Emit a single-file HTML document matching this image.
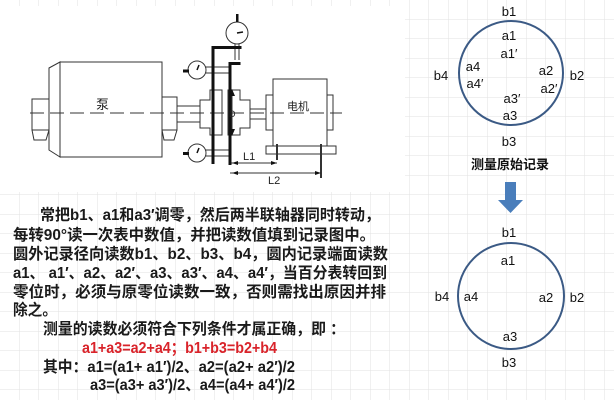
<!DOCTYPE html>
<html><head><meta charset="utf-8"><style>
html,body{margin:0;padding:0;background:#fff;}
svg{display:block;}
text{font-family:"Liberation Sans","Noto Sans CJK SC",sans-serif;}
</style></head><body>
<svg width="614" height="400" viewBox="0 0 614 400" xmlns="http://www.w3.org/2000/svg">
<defs>
<pattern id="g" width="19.5" height="19.5" patternUnits="userSpaceOnUse">
<path d="M19.5 0V19.5M0 19.5H19.5" stroke="#e2e2e2" stroke-width="1" fill="none"/>
</pattern>
</defs>
<rect width="614" height="400" fill="#fff"/>
<rect width="614" height="400" fill="url(#g)"/>
<rect x="0" y="6" width="405" height="186" fill="#fff"/>

<line x1="30" y1="113" x2="342" y2="113" stroke="#333" stroke-width="1" stroke-dasharray="14,6"/>
<g fill="none" stroke="#333" stroke-width="1">
<polygon points="49,68 60,62 60,157 49,150"/>
<rect x="60" y="62" width="102" height="95"/>
<rect x="32" y="99" width="17" height="31"/>
<path d="M32 130 L34 140 L46 140 L49 130"/>
<rect x="162" y="97" width="15" height="33"/>
<path d="M162 130 L164 140 L174 140 L177 130"/>
<line x1="177" y1="106" x2="200" y2="106"/><line x1="177" y1="122" x2="200" y2="122"/>
<path d="M200 100 H210 V90 H222 V135 H210 V128 H200 Z"/>
<path d="M240 100 H250 V128 H240 V135 H228 V90 H240 Z"/>
<line x1="250" y1="109" x2="266" y2="109"/><line x1="250" y1="119" x2="266" y2="119"/>
<rect x="273" y="79" width="54" height="67"/>
<rect x="266" y="95" width="7" height="35"/>
<rect x="327" y="95" width="6" height="35"/>
<rect x="266" y="146" width="70" height="8"/>
<line x1="277" y1="144" x2="277" y2="160" stroke-width="2"/>
<line x1="321" y1="144" x2="321" y2="178" stroke-width="2"/>
<circle cx="237" cy="33" r="11"/>
<circle cx="197" cy="70" r="9"/>
<circle cx="197" cy="153" r="9"/>
<line x1="206" y1="67" x2="213" y2="67"/><line x1="206" y1="73" x2="213" y2="73"/>
<line x1="206" y1="150" x2="213" y2="150"/><line x1="206" y1="156" x2="213" y2="156"/>
<line x1="213" y1="67" x2="230" y2="67"/><line x1="213" y1="73" x2="230" y2="73"/>
<line x1="213" y1="150" x2="230" y2="150"/><line x1="213" y1="156" x2="230" y2="156"/>
<line x1="235" y1="44" x2="235" y2="60"/><line x1="239" y1="44" x2="239" y2="60"/>
<line x1="230" y1="163" x2="277" y2="163"/>
<line x1="230" y1="173" x2="321" y2="173"/>
<line x1="232" y1="95" x2="232" y2="130"/>
</g>
<g fill="#111">
<rect x="211.5" y="46" width="3" height="118"/>
<rect x="228.5" y="63" width="3" height="102"/>
<rect x="211.5" y="46" width="30" height="3"/>
<rect x="228.5" y="62" width="12" height="3"/>
<rect x="236" y="14" width="2.5" height="8"/>
<rect x="183" y="69.5" width="6" height="3"/>
<rect x="183" y="152" width="6" height="3"/>
<polygon points="232,89 229,96 235,96"/>
<polygon points="232,136 229,129 235,129"/>
<polygon points="277,163 271,161 271,165"/>
<polygon points="232,163 238,161 238,165"/>
<polygon points="321,173 315,171 315,175"/>
<polygon points="232,173 238,171 238,175"/>
<line x1="237" y1="33" x2="243" y2="32" stroke="#111" stroke-width="1.5"/>
<line x1="197" y1="70" x2="199" y2="65" stroke="#111" stroke-width="1.5"/>
<line x1="197" y1="153" x2="199" y2="148" stroke="#111" stroke-width="1.5"/>
</g>
<g fill="#222" font-size="11">
<text x="96" y="109" font-size="13">泵</text>
<text x="287" y="110">电机</text>
<text x="229" y="117" font-size="9">D</text>
<text x="243" y="160">L1</text>
<text x="268" y="184">L2</text>
</g>

<g fill="none" stroke="#3b5a85" stroke-width="2">
<circle cx="511" cy="73" r="52"/>
<circle cx="511" cy="296" r="53"/>
</g>
<g fill="#111" font-size="13" text-anchor="middle">
<text x="509" y="16">b1</text>
<text x="509" y="40">a1</text>
<text x="509" y="58">a1′</text>
<text x="473" y="71">a4</text>
<text x="475" y="88">a4′</text>
<text x="546" y="75">a2</text>
<text x="549" y="93">a2′</text>
<text x="512" y="103">a3′</text>
<text x="510" y="120">a3</text>
<text x="441" y="80">b4</text>
<text x="577" y="80">b2</text>
<text x="509" y="146">b3</text>
<text x="510" y="169" font-size="13" font-weight="bold">测量原始记录</text>
<text x="509" y="237">b1</text>
<text x="508" y="265">a1</text>
<text x="442" y="301">b4</text>
<text x="471" y="301">a4</text>
<text x="546" y="302">a2</text>
<text x="577" y="302">b2</text>
<text x="510" y="341">a3</text>
<text x="509" y="367">b3</text>
</g>
<g fill="#4a7ebb">
<rect x="505" y="182" width="11" height="19"/>
<polygon points="498,200 523,200 510.5,213"/>
</g>

<g fill="#1a1a1a" font-size="15.5" font-weight="bold">
<text x="40" y="220" textLength="340" lengthAdjust="spacingAndGlyphs">常把b1、a1和a3′调零，然后两半联轴器同时转动，</text>
<text x="13" y="240" textLength="362" lengthAdjust="spacingAndGlyphs">每转90°读一次表中数值，并把读数值填到记录图中。</text>
<text x="13" y="259" textLength="375" lengthAdjust="spacingAndGlyphs">圆外记录径向读数b1、b2、b3、b4，圆内记录端面读数</text>
<text x="13" y="278" textLength="374" lengthAdjust="spacingAndGlyphs">a1、 a1′、a2、a2′、a3、a3′、a4、a4′，当百分表转回到</text>
<text x="13" y="297" textLength="373" lengthAdjust="spacingAndGlyphs">零位时，必须与原零位读数一致，否则需找出原因并排</text>
<text x="13" y="315" textLength="44" lengthAdjust="spacingAndGlyphs">除之。</text>
<text x="43" y="334" textLength="302" lengthAdjust="spacingAndGlyphs">测量的读数必须符合下列条件才属正确，即 ：</text>
<text x="82" y="353" fill="#d9232a" textLength="195" lengthAdjust="spacingAndGlyphs">a1+a3=a2+a4；b1+b3=b2+b4</text>
<text x="43" y="372" textLength="252" lengthAdjust="spacingAndGlyphs">其中：a1=(a1+ a1′)/2、a2=(a2+ a2′)/2</text>
<text x="90" y="390" textLength="205" lengthAdjust="spacingAndGlyphs">a3=(a3+ a3′)/2、a4=(a4+ a4′)/2</text>
</g>
</svg>
</body></html>
